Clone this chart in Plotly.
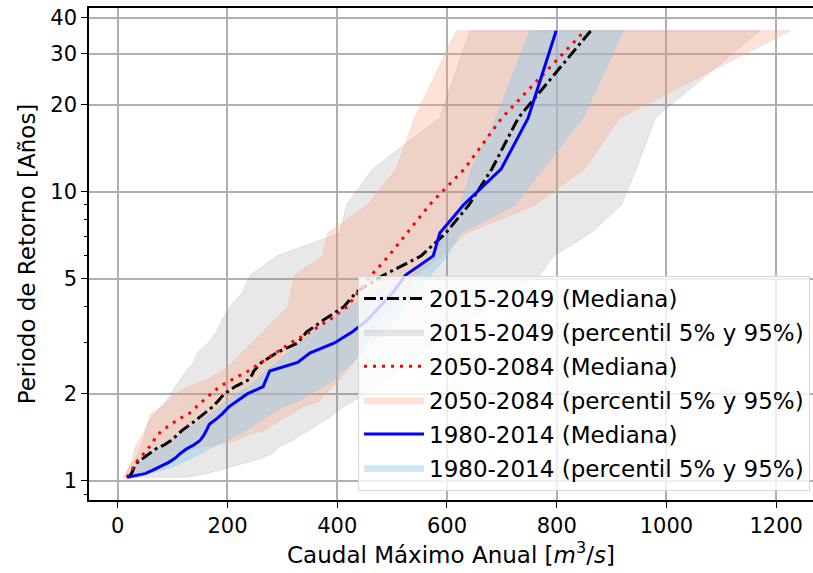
import plotly.graph_objects as go

# Return period (years), plotting positions
periodo = [1.03, 1.06, 1.09, 1.13, 1.16, 1.20, 1.24, 1.29, 1.33, 1.38, 1.44, 1.50,
           1.57, 1.64, 1.71, 1.80, 1.89, 2.00, 2.12, 2.25, 2.40, 2.57, 2.77, 3.00,
           3.27, 3.60, 4.00, 4.50, 5.14, 6.00, 7.20, 9.00, 12.0, 18.0, 36.0]

# 2015-2049
med_2015 = [20, 25, 28, 31, 36, 47, 58, 69, 84, 97, 108, 118, 133, 146, 158, 172, 183, 194,
            214, 241, 248, 262, 289, 328, 344, 375, 412, 435, 484, 553, 598, 640, 682, 730, 862]
p05_2015 = [10, 14, 18, 22, 27, 32, 37, 40, 43, 46, 49, 51, 55, 60, 68, 78, 88, 97,
            105, 115, 125, 138, 145, 165, 180, 190, 204, 228, 241, 290, 405, 417, 465, 587, 642]
p95_2015 = [125, 160, 185, 212, 238, 262, 280, 290, 300, 318, 332, 350, 365, 382, 395, 410, 430, 450,
            470, 490, 510, 530, 555, 580, 610, 640, 680, 720, 769, 794, 862, 918, 945, 980, 1170]

# 2050-2084
med_2050 = [17, 22, 26, 30, 33, 40, 47, 55, 60, 65, 72, 82, 98, 112, 130, 142, 155, 170,
            186, 210, 238, 262, 288, 315, 350, 385, 418, 438, 462, 494, 527, 568, 632, 700, 851]
p05_2050 = [13, 16, 19, 22, 25, 27, 29, 31, 33, 38, 45, 50, 54, 58, 61, 78, 92, 105,
            130, 165, 190, 210, 225, 245, 265, 285, 310, 316, 322, 374, 383, 455, 508, 541, 617]
p95_2050 = [20, 30, 60, 80, 95, 108, 120, 135, 175, 215, 235, 268, 285, 300, 318, 335, 368, 378,
            392, 405, 418, 430, 440, 450, 462, 478, 498, 520, 545, 590, 636, 760, 851, 915, 1225]

# 1980-2014
med_1980 = [17, 50, 64, 80, 93, 105, 113, 125, 138, 150, 157, 162, 167, 180, 191, 202, 218, 236,
            265, 271, 277, 328, 350, 395, 427, 455, 478, 502, 524, 575, 587, 630, 699, 748, 799]
p05_1980 = [17, 22, 28, 35, 42, 50, 60, 72, 84, 97, 112, 125, 140, 155, 170, 185, 200, 215,
            240, 255, 270, 290, 310, 332, 355, 385, 420, 470, 538, 570, 600, 625, 645, 690, 751]
p95_1980 = [25, 50, 80, 105, 120, 135, 150, 165, 180, 200, 215, 235, 250, 265, 280, 300, 330, 350,
            375, 395, 410, 428, 445, 465, 485, 505, 525, 545, 570, 600, 625, 725, 775, 848, 921]

x_ticks = [0, 200, 400, 600, 800, 1000, 1200]
y_ticks = [1, 2, 5, 10, 20, 30, 40]
y_minor = [0.9, 3, 4, 6, 7, 8, 9]

FONT = "DejaVu Sans"

fig = go.Figure()


def band(lo, hi, name, color, rank):
    xs = list(lo) + list(hi)[::-1] + [lo[0]]
    ys = list(periodo) + list(periodo)[::-1] + [periodo[0]]
    fig.add_trace(go.Scatter(
        x=xs, y=ys, mode="lines", fill="toself", fillcolor=color,
        line=dict(color=color, width=1), name=name, legendrank=rank,
        legendgroup=name, hoverinfo="skip"))


band(p05_2015, p95_2015, "2015-2049 (percentil 5% y 95%)", "rgba(128,128,128,0.18)", 2)
band(p05_2050, p95_2050, "2050-2084 (percentil 5% y 95%)", "rgba(255,160,122,0.3)", 4)
band(p05_1980, p95_1980, "1980-2014 (percentil 5% y 95%)", "rgba(140,200,240,0.42)", 6)

fig.add_trace(go.Scatter(x=med_2015, y=periodo, mode="lines", name="2015-2049 (Mediana)",
                         legendrank=1, legendgroup="a",
                         line=dict(color="black", width=3, dash="12px,4px,3px,4px")))
fig.add_trace(go.Scatter(x=med_2050, y=periodo, mode="lines", name="2050-2084 (Mediana)",
                         legendrank=3, legendgroup="b",
                         line=dict(color="red", width=3, dash="3px,6px")))
fig.add_trace(go.Scatter(x=med_1980, y=periodo, mode="lines", name="1980-2014 (Mediana)",
                         legendrank=5, legendgroup="c",
                         line=dict(color="blue", width=3)))

fig.update_layout(
    width=813, height=573,
    margin=dict(l=89, r=0, t=8, b=73),
    paper_bgcolor="white", plot_bgcolor="white",
    font=dict(family=FONT, size=21, color="black"),
    showlegend=True,
    legend=dict(
        x=(810 - 89) / 724, xanchor="right", y=(500 - 491) / 492, yanchor="bottom",
        bgcolor="rgba(255,255,255,0.8)", bordercolor="#d6d6d6", borderwidth=1,
        font=dict(family=FONT, size=23, color="black"),
        traceorder="grouped", tracegroupgap=1, itemwidth=60,
    ),
    xaxis=dict(
        range=[-52.3, 1267.0], tickvals=x_ticks, ticktext=[str(v) for v in x_ticks],
        showgrid=True, gridcolor="#b0b0b0", gridwidth=1.6,
        showline=True, linecolor="black", linewidth=1.6, mirror=True,
        ticks="outside", ticklen=6, tickwidth=1.4, tickcolor="black",
        zeroline=False,
        title=dict(text="Caudal Máximo Anual [<i>m</i><sup>3</sup>/<i>s</i>]",
                   font=dict(family=FONT, size=23), standoff=8),
    ),
    yaxis=dict(
        type="log", range=[-0.0657, 1.6350],
        tickvals=y_ticks, ticktext=[str(v) for v in y_ticks],
        showgrid=True, gridcolor="#b0b0b0", gridwidth=1.6,
        showline=True, linecolor="black", linewidth=1.6, mirror=False,
        ticks="outside", ticklen=6, tickwidth=1.4, tickcolor="black",
        minor=dict(tickvals=y_minor, ticks="outside", ticklen=3.5, tickwidth=1.2,
                   tickcolor="black", showgrid=False),
        zeroline=False,
        title=dict(text="Periodo de Retorno [Años]", font=dict(family=FONT, size=23),
                   standoff=8),
    ),
)

fig.write_html("out.html")
